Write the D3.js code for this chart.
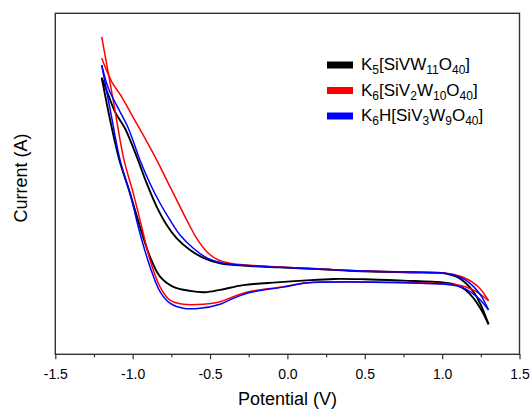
<!DOCTYPE html>
<html>
<head>
<meta charset="utf-8">
<script src="https://cdn.jsdelivr.net/npm/d3@7"></script>
<style>
  body { margin: 0; background: #fff; }
  svg { display: block; font-family: Arial, "Liberation Sans", sans-serif; }
</style>
</head>
<body>
<svg id="cv"></svg>
<script>
// Cyclic voltammograms (current in arbitrary units, 0-100 over the plot height)
// each scan: forward branch -1.2 V -> 1.3 V, then reverse branch 1.3 V -> -1.2 V
const blackForward = [
  [-1.200, 81.1], [-1.157, 76.0], [-1.114, 71.1], [-1.050, 66.3], [-1.000, 61.0],
  [-0.964, 56.8], [-0.909, 50.1], [-0.845, 43.3], [-0.780, 37.9], [-0.715, 34.0],
  [-0.629, 30.6], [-0.543, 28.3], [-0.435, 26.7], [-0.242, 25.9], [-0.048, 25.5],
  [0.200, 25.0], [0.400, 24.5], [0.600, 24.2], [0.800, 24.0], [1.000, 23.8],
  [1.050, 23.4], [1.100, 22.6], [1.150, 21.0], [1.200, 18.5], [1.250, 14.5], [1.300, 8.8]
];
const blackReverse = [
  [1.300, 8.8], [1.250, 13.3], [1.200, 16.6], [1.150, 18.9], [1.100, 20.2], [1.050, 20.8],
  [1.000, 21.1], [0.750, 21.6], [0.500, 22.0], [0.300, 22.1], [0.100, 21.6], [-0.069, 21.1],
  [-0.285, 20.3], [-0.435, 18.9], [-0.532, 18.2], [-0.630, 18.6], [-0.737, 19.8],
  [-0.823, 22.8], [-0.888, 28.6], [-0.953, 37.4], [-1.017, 47.2], [-1.086, 57.0],
  [-1.140, 67.5], [-1.200, 81.1]
];

const redForward = [
  [-1.200, 86.8], [-1.135, 79.9], [-1.071, 75.5], [-1.006, 70.2], [-0.920, 63.3],
  [-0.845, 57.0], [-0.780, 51.1], [-0.715, 45.2], [-0.651, 39.4], [-0.586, 34.0],
  [-0.521, 30.1], [-0.457, 27.9], [-0.371, 26.7], [-0.242, 26.1], [-0.048, 25.6],
  [0.200, 25.0], [0.400, 24.6], [0.600, 24.3], [0.800, 24.1], [1.000, 23.9],
  [1.050, 23.6], [1.100, 23.1], [1.150, 22.3], [1.200, 21.0], [1.250, 19.0], [1.300, 15.7]
];
const redReverse = [
  [1.300, 15.7], [1.250, 17.5], [1.200, 18.9], [1.150, 19.8], [1.100, 20.3], [1.000, 20.7],
  [0.728, 21.1], [0.405, 21.3], [0.125, 21.0], [-0.026, 19.8], [-0.242, 18.4],
  [-0.350, 16.9], [-0.435, 15.4], [-0.543, 14.7], [-0.673, 14.7], [-0.759, 15.9],
  [-0.823, 19.8], [-0.888, 27.7], [-0.942, 37.4], [-0.996, 47.2], [-1.056, 57.0],
  [-1.125, 74.3], [-1.200, 93.1]
];

const blueForward = [
  [-1.200, 84.8], [-1.157, 78.0], [-1.093, 72.1], [-1.028, 66.3], [-0.953, 57.0],
  [-0.888, 50.1], [-0.823, 44.3], [-0.759, 39.4], [-0.694, 35.0], [-0.608, 31.1],
  [-0.521, 28.3], [-0.414, 26.7], [-0.242, 26.0], [-0.048, 25.5], [0.200, 25.0],
  [0.400, 24.6], [0.600, 24.3], [0.800, 24.1], [1.000, 23.9],
  [1.050, 23.5], [1.100, 22.9], [1.150, 21.8], [1.200, 20.0], [1.250, 17.3], [1.300, 13.0]
];
const blueReverse = [
  [1.300, 13.0], [1.250, 15.8], [1.200, 17.8], [1.150, 19.2], [1.100, 20.0], [1.000, 20.6],
  [0.728, 21.0], [0.405, 21.2], [0.125, 20.9], [-0.026, 19.7], [-0.242, 18.1],
  [-0.350, 16.4], [-0.435, 14.7], [-0.565, 13.5], [-0.673, 13.5], [-0.759, 15.0],
  [-0.823, 18.4], [-0.888, 25.7], [-0.953, 35.5], [-1.017, 47.2], [-1.082, 57.0],
  [-1.140, 70.5], [-1.200, 84.8]
];

// legend labels, split into [text, isSubscript] pieces
const labelBlack = [["K", 0], ["5", 1], ["[SiVW", 0], ["11", 1], ["O", 0], ["40", 1], ["]", 0]];
const labelRed = [["K", 0], ["6", 1], ["[SiV", 0], ["2", 1], ["W", 0], ["10", 1], ["O", 0], ["40", 1], ["]", 0]];
const labelBlue = [["K", 0], ["6", 1], ["H[SiV", 0], ["3", 1], ["W", 0], ["9", 1], ["O", 0], ["40", 1], ["]", 0]];

const xMajorTicks = [-1.5, -1.0, -0.5, 0.0, 0.5, 1.0, 1.5];
const xMinorTicks = [-1.25, -0.75, -0.25, 0.25, 0.75, 1.25];

const series = [
  { color: "#000000", width: 1.9, scans: [blackForward, blackReverse], label: labelBlack },
  { color: "#ff0000", width: 1.5, scans: [redForward, redReverse], label: labelRed },
  { color: "#0000ff", width: 1.5, scans: [blueForward, blueReverse], label: labelBlue }
];

const dims = {
  width: 531,
  height: 410,
  marginLeft: 55.3,
  marginRight: 11.5,
  marginTop: 13.3,
  marginBottom: 55.7
};

const svg = d3.select("#cv")
    .attr("width", dims.width)
    .attr("height", dims.height);

const x = d3.scaleLinear()
    .domain([-1.5, 1.5])
    .range([dims.marginLeft, dims.width - dims.marginRight]);

const y = d3.scaleLinear()
    .domain([0, 100])
    .range([dims.height - dims.marginBottom, dims.marginTop]);

const line = d3.line()
    .x(d => x(d[0]))
    .y(d => y(d[1]))
    .curve(d3.curveCatmullRom.alpha(0.5));

// curves
series.forEach(s => {
  s.scans.forEach(scan => {
    svg.append("path")
        .datum(scan)
        .attr("fill", "none")
        .attr("stroke", s.color)
        .attr("stroke-width", s.width)
        .attr("stroke-linejoin", "round")
        .attr("d", line);
  });
});

const axisColor = "#333";
const bottom = dims.height - dims.marginBottom;

// frame (left and top/right, no ticks on y)
svg.append("rect")
    .attr("x", x(-1.5))
    .attr("y", dims.marginTop)
    .attr("width", x(1.5) - x(-1.5))
    .attr("height", bottom - dims.marginTop)
    .attr("fill", "none")
    .attr("stroke", axisColor)
    .attr("stroke-width", 1.4);

// minor ticks
svg.append("g")
    .attr("transform", `translate(0,${bottom})`)
    .call(d3.axisBottom(x).tickValues(xMinorTicks).tickSize(3).tickFormat(""))
    .call(g => g.select(".domain").remove())
    .call(g => g.selectAll("line").attr("stroke", axisColor).attr("stroke-width", 1.2));

// major ticks + labels
svg.append("g")
    .attr("transform", `translate(0,${bottom})`)
    .call(d3.axisBottom(x).tickValues(xMajorTicks).tickSize(5).tickPadding(10).tickFormat(d3.format(".1f")))
    .call(g => g.select(".domain").remove())
    .call(g => g.selectAll("line").attr("stroke", axisColor).attr("stroke-width", 1.2))
    .call(g => g.selectAll("text")
        .attr("fill", "#000")
        .style("font-size", "14px")
        .style("font-family", "Arial, 'Liberation Sans', sans-serif")
        .text(d => d3.format(".1f")(d).replace("−", "-")));

// axis titles
svg.append("text")
    .attr("x", x(0))
    .attr("y", 405)
    .attr("text-anchor", "middle")
    .style("font-size", "18px")
    .text("Potential (V)");

svg.append("text")
    .attr("transform", "translate(27,178) rotate(-90)")
    .attr("text-anchor", "middle")
    .style("font-size", "18px")
    .text("Current (A)");

// legend
const legendX = 327;
const legendY = 70;
const legendStep = 25.5;
series.forEach((s, i) => {
  const base = legendY + i * legendStep;
  svg.append("rect")
      .attr("x", legendX)
      .attr("y", base - 8.5)
      .attr("width", 26)
      .attr("height", 7)
      .attr("fill", s.color);
  const t = svg.append("text")
      .attr("x", legendX + 34)
      .attr("y", base)
      .style("font-size", "17px");
  let shift = 0;
  s.label.forEach(([str, sub]) => {
    const dy = sub ? 4 - shift : -shift;
    shift = sub ? 4 : 0;
    t.append("tspan")
        .attr("dy", dy)
        .style("font-size", sub ? "12px" : "17px")
        .text(str);
  });
});
</script>
</body>
</html>
